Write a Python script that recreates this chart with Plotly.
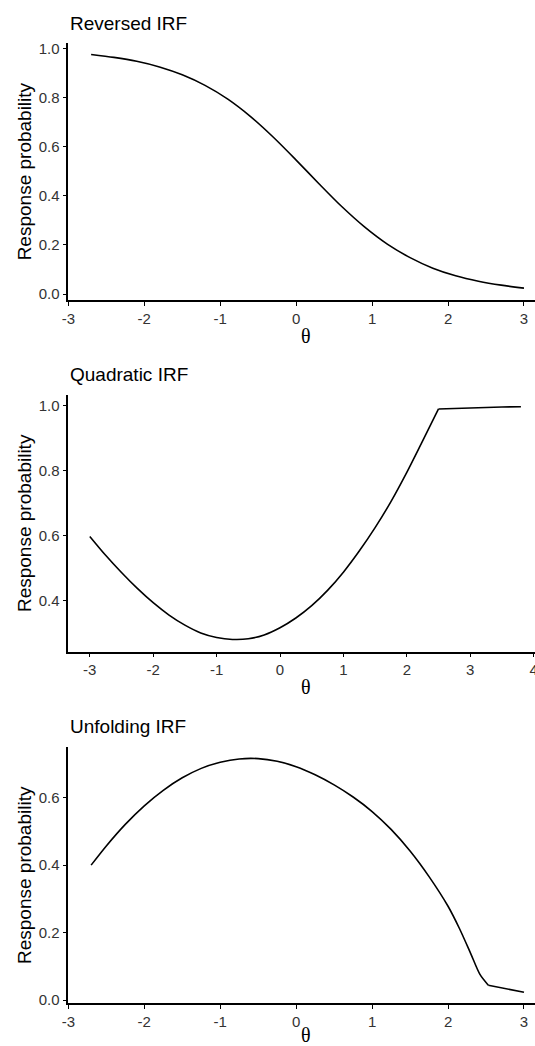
import plotly.graph_objects as go

# ---------------- data ----------------
rev_theta = [-2.7, -2.4, -2.1, -1.8, -1.5, -1.2, -0.9, -0.6, -0.3, 0.0,
             0.3, 0.6, 0.9, 1.2, 1.5, 1.8, 2.1, 2.4, 2.7, 3.0]
rev_prob = [0.975, 0.963, 0.947, 0.924, 0.892, 0.849, 0.793, 0.722, 0.638, 0.545,
            0.449, 0.356, 0.273, 0.203, 0.148, 0.105, 0.074, 0.052, 0.036, 0.024]

# quadratic IRF: curved part up to the kink at 2.5, then flat tail
quad_theta = [-3.0, -2.75, -2.5, -2.25, -2.0, -1.75, -1.5, -1.25, -1.0, -0.75,
              -0.5, -0.25, 0.0, 0.25, 0.5, 0.75, 1.0, 1.25, 1.5, 1.75,
              2.0, 2.25, 2.5]
quad_prob = [0.598, 0.540, 0.487, 0.438, 0.394, 0.356, 0.325, 0.301, 0.287, 0.281,
             0.283, 0.295, 0.317, 0.347, 0.385, 0.432, 0.488, 0.553, 0.625, 0.705,
             0.795, 0.892, 0.990]
quad_tail_theta = [2.5, 3.0, 3.5, 3.8]
quad_tail_prob = [0.990, 0.994, 0.996, 0.997]

# unfolding IRF: curved part up to the bend near 2.53, then low tail
unf_theta = [-2.7, -2.5, -2.25, -2.0, -1.75, -1.5, -1.25, -1.0, -0.75, -0.5,
             -0.25, 0.0, 0.25, 0.5, 0.75, 1.0, 1.25, 1.5, 1.75, 2.0,
             2.15, 2.3, 2.42, 2.53]
unf_prob = [0.400, 0.457, 0.521, 0.576, 0.622, 0.659, 0.687, 0.705, 0.715, 0.716,
            0.708, 0.692, 0.668, 0.638, 0.602, 0.559, 0.506, 0.442, 0.366, 0.278,
            0.212, 0.137, 0.076, 0.044]
unf_tail_theta = [2.53, 2.75, 3.0]
unf_tail_prob = [0.044, 0.034, 0.023]

panel_titles = ["Reversed IRF", "Quadratic IRF", "Unfolding IRF"]
y_title = "Response probability"
x_title = "θ"

x_ticks_1 = [-3, -2, -1, 0, 1, 2, 3]
x_ticks_2 = [-3, -2, -1, 0, 1, 2, 3, 4]
y_ticks_1 = [0.0, 0.2, 0.4, 0.6, 0.8, 1.0]
y_ticks_2 = [0.4, 0.6, 0.8, 1.0]
y_ticks_3 = [0.0, 0.2, 0.4, 0.6]

# ---------------- figure ----------------
W, H = 535, 1046
fig = go.Figure()

def add_line(x, y, ax, smooth):
    ln = dict(color="black", width=1.6)
    if smooth:
        ln.update(shape="spline", smoothing=0.8)
    fig.add_trace(go.Scatter(x=x, y=y, mode="lines", line=ln,
                             xaxis="x" + ax, yaxis="y" + ax, showlegend=False,
                             hoverinfo="x+y"))

add_line(rev_theta, rev_prob, "", True)
add_line(quad_theta, quad_prob, "2", True)
add_line(quad_tail_theta, quad_tail_prob, "2", False)
add_line(unf_theta, unf_prob, "3", True)
add_line(unf_tail_theta, unf_tail_prob, "3", False)

def py(px):
    return 1 - px / H

def pxx(px):
    return px / W

LEFT = 68.3
x_dom = [pxx(LEFT), 1.0]
panels = [
    dict(top=43.3, bottom=300.0, xr=[-3.0005, 3.145], yr=[-0.0244, 1.0204],
         xt=x_ticks_1, yt=y_ticks_1, title_y=23.3, theta_y=335.5),
    dict(top=395.0, bottom=651.7, xr=[-3.339, 4.022], yr=[0.2433, 1.033],
         xt=x_ticks_2, yt=y_ticks_2, title_y=375.0, theta_y=687.0),
    dict(top=747.3, bottom=1003.3, xr=[-3.0005, 3.145], yr=[-0.0098, 0.7495],
         xt=x_ticks_1, yt=y_ticks_3, title_y=726.7, theta_y=1034.5),
]

font_main = "Liberation Sans, Arial, sans-serif"
axis_common = dict(showline=True, linecolor="black", linewidth=1.5, ticks="outside", ticklen=4,
                   tickwidth=1.2, tickcolor="black", showgrid=False, zeroline=False,
                   ticklabeloverflow="allow", automargin=False,
                   tickfont=dict(family=font_main, size=15, color="#333333"), mirror=False)

layout = dict(width=W, height=H, margin=dict(l=0, r=0, t=0, b=0, pad=0, autoexpand=False),
              template="none",
              paper_bgcolor="white", plot_bgcolor="white", showlegend=False,
              annotations=[])

for i, p in enumerate(panels):
    sfx = "" if i == 0 else str(i + 1)
    xa = dict(axis_common, domain=x_dom, range=p["xr"], tickvals=p["xt"],
              ticktext=[str(v) for v in p["xt"]], anchor="y" + sfx)
    ya = dict(axis_common, domain=[py(p["bottom"]), py(p["top"])], range=p["yr"], tickvals=p["yt"],
              ticktext=[f"{v:.1f}" for v in p["yt"]], anchor="x" + sfx)
    layout["xaxis" + sfx] = xa
    layout["yaxis" + sfx] = ya
    # panel title
    layout["annotations"].append(dict(text=panel_titles[i], xref="paper", yref="paper",
                                      x=pxx(LEFT), y=py(p["title_y"]), xanchor="left", yanchor="middle",
                                      showarrow=False, font=dict(family=font_main, size=19, color="black")))
    # y-axis title
    layout["annotations"].append(dict(text=y_title, xref="paper", yref="paper", textangle=-90,
                                      x=pxx(24.7), y=py((p["top"] + p["bottom"]) / 2),
                                      xanchor="center", yanchor="middle", showarrow=False,
                                      font=dict(family=font_main, size=19, color="black")))
    # x-axis title
    layout["annotations"].append(dict(text=x_title, xref="paper", yref="paper",
                                      x=pxx(306.0), y=py(p["theta_y"]),
                                      xanchor="center", yanchor="middle", showarrow=False,
                                      font=dict(family="Liberation Serif, DejaVu Serif, serif", size=20, color="black")))

fig.update_layout(**layout)
fig.write_html("out.html")
